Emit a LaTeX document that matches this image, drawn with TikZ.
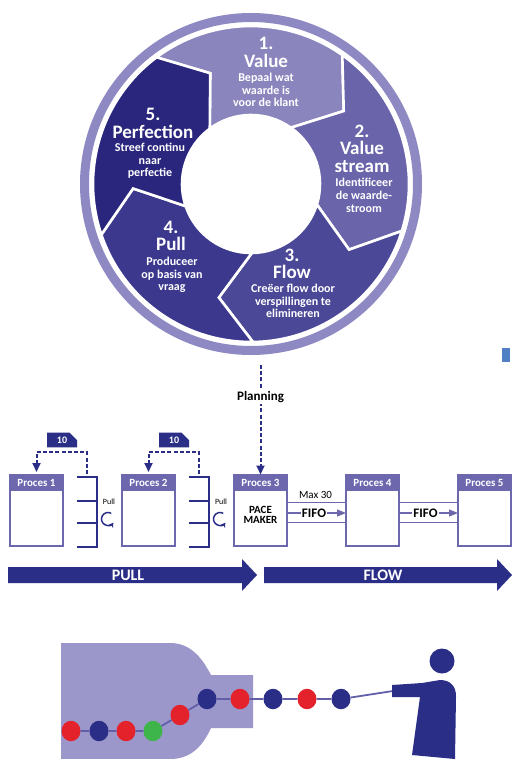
\documentclass[tikz,border=0pt]{standalone}
\usepackage{fontspec}
\setmainfont{Carlito}
\usetikzlibrary{arrows.meta,shapes.misc,shapes.geometric}

\definecolor{ringlav}{HTML}{8F89C3}
\definecolor{segA}{HTML}{8B85BE}
\definecolor{segB}{HTML}{6A65AA}
\definecolor{segC}{HTML}{4B4897}
\definecolor{segD}{HTML}{3B388D}
\definecolor{segE}{HTML}{2A267D}
\definecolor{navy}{HTML}{2B2E87}
\definecolor{lav}{HTML}{6D67AE}
\definecolor{bottle}{HTML}{9C97CB}
\definecolor{beadred}{HTML}{E3222B}
\definecolor{beadgreen}{HTML}{3DB54A}
\definecolor{cord}{HTML}{625EA8}
\definecolor{edgeblue}{HTML}{4F80C4}

% one chevron segment of the lean cycle
% #1 = counter-clockwise boundary angle, #2 = fill colour
\newcommand{\leanseg}[2]{%
  \pgfmathsetmacro{\angS}{-(#1)}%
  \pgfmathsetmacro{\angE}{-(#1)+72}%
  \pgfmathsetmacro{\tipS}{-(#1)+16.5}%
  \pgfmathsetmacro{\tipE}{-(#1)+88.5}%
  \filldraw[fill=#2, draw=white, line width=2.6pt, line join=miter]
    (\angS:158) arc[start angle=\angS, end angle=\angE, radius=158]
    -- (\tipE:118) -- (\angE:69)
    arc[start angle=\angE, end angle=\angS, radius=69]
    -- (\tipS:118) -- cycle;
}

\begin{document}
\begin{tikzpicture}[x=1pt,y=-1pt,
  segtitle/.style={text=white, font=\bfseries\fontsize{19}{17.5}\selectfont, align=center, inner sep=0pt},
  segtext/.style={text=white, font=\bfseries\fontsize{12}{12.7}\selectfont, align=center, inner sep=0pt},
  prochead/.style={fill=lav, draw=lav, line width=1.2pt, text=white,
    font=\bfseries\fontsize{11}{12}\selectfont, minimum width=53pt, minimum height=15pt,
    inner sep=0pt, outer sep=0pt, anchor=north},
  procbody/.style={fill=white, draw=lav, line width=1.2pt, minimum width=53pt,
    minimum height=56pt, inner sep=0pt, outer sep=0pt, anchor=north},
  card/.style={chamfered rectangle, chamfered rectangle corners=north east,
    chamfered rectangle xsep=4pt, chamfered rectangle ysep=4pt, fill=navy, text=white,
    font=\bfseries\fontsize{10}{11}\selectfont, minimum width=30pt, minimum height=14pt, inner sep=0pt},
  dashloop/.style={navy, line width=2pt, dash pattern=on 4pt off 2.2pt,
    -{Triangle[width=8pt,length=9pt]}},
  rack/.style={navy, line width=1.6pt},
  fifoline/.style={lav, line width=1.2pt},
  fifoarrow/.style={lav, line width=1.2pt, -{Triangle[width=7pt,length=9pt]}},
  fifotext/.style={fill=white, inner sep=1pt, font=\bfseries\fontsize{13}{14}\selectfont},
  bigarrow/.style={fill=navy},
  bigtext/.style={text=white, font=\bfseries\fontsize{16}{18}\selectfont},
  bead/.style={ellipse, minimum width=19pt, minimum height=20.5pt, inner sep=0pt},
  loopicon/.style={navy, line width=1.5pt, -{Stealth[length=4.5pt,width=5.5pt]}}
]
\fill[white] (0,0) rectangle (511,759);
\useasboundingbox (0,0) rectangle (511,759);

% ---------- lean cycle ----------
\draw[ringlav, line width=9pt] (251,184) circle[radius=166.5];
\begin{scope}[shift={(251,184)}]
  \leanseg{126.7}{segA}
  \leanseg{54.7}{segB}
  \leanseg{-17.3}{segC}
  \leanseg{-89.3}{segD}
  \leanseg{-161.3}{segE}
\end{scope}

\node[segtitle] (t1) at (266,52.5) {1.\\Value};
\node[segtext]  (d1) at (266,90) {Bepaal wat\\waarde is\\voor de klant};
\node[segtitle] (t2) at (362,148.5) {2.\\Value\\stream};
\node[segtext]  (d2) at (364,195.5) {Identificeer\\de waarde-\\stroom};
\node[segtitle] (t3) at (292,264) {3.\\Flow};
\node[segtext]  (d3) at (293,301) {Creëer flow door\\verspillingen te\\elimineren};
\node[segtitle] (t4) at (171,236) {4.\\Pull};
\node[segtext]  (d4) at (172,275) {Produceer\\op basis van\\vraag};
\node[segtitle] (t5) at (153,123.5) {5.\\Perfection};
\node[segtext]  (d5) at (150,161) {Streef continu\\naar\\perfectie};

\fill[edgeblue] (502,348) rectangle (510,362);

% ---------- process chain ----------
\foreach \i/\x in {1/36.5,2/148.5,3/260.5,4/372.5,5/484.5} {
  \node[procbody] (b\i) at (\x,490) {};
  \node[prochead] (h\i) at (\x,475) {Proces \i};
}
\node[font=\bfseries\fontsize{11}{10}\selectfont, align=center, inner sep=0pt] (pace) at (260.5,514.5) {PACE\\MAKER};

% planning signal
\coordinate (plan) at (260.5,365);
\draw[dashloop, shorten >=0.5pt] (plan) -- (h3.north);
\node[fill=white, inner sep=1.5pt, font=\bfseries\fontsize{13}{14}\selectfont] (planlbl) at (260.5,397) {Planning};

% supermarkets with kanban loops
\foreach \k/\rx in {1/97,2/209} {
  \draw[rack] (\rx-20,477) -- (\rx,477) -- (\rx,547) -- (\rx-20,547);
  \draw[rack] (\rx-20,501) -- (\rx,501);
  \draw[rack] (\rx-20,523) -- (\rx,523);
  \coordinate (rk\k) at (\rx-10,477);
  \node[font=\fontsize{8}{9}\selectfont, inner sep=0pt] (pl\k) at (\rx+12,502) {Pull};
  \coordinate (ic\k) at (\rx+11,519);
  \draw[loopicon] (ic\k) ++(-60:6.5) arc[start angle=-60, end angle=-325, radius=6.5];
  \node[card] (kb\k) at (\rx-35,440) {10};
}
\draw[dashloop, shorten <=3pt, shorten >=3pt] (rk1) -- ++(0,-25) -| (h1.north);
\draw[dashloop, shorten <=3pt, shorten >=3pt] (rk2) -- ++(0,-25) -| (h2.north);

% FIFO lanes
\foreach \a/\b/\fx in {3/4/314,4/5/425.5} {
  \draw[fifoline] ([yshift=15.5pt]b\a.east) -- ([yshift=15.5pt]b\b.west);
  \draw[fifoline] ([yshift=-4.7pt]b\a.east) -- ([yshift=-4.7pt]b\b.west);
  \draw[fifoarrow] ([yshift=5pt]b\a.east) -- ([yshift=5pt]b\b.west);
  \node[fifotext] (fifo\a) at (\fx,513) {FIFO};
}
\node[font=\fontsize{11}{12}\selectfont, inner sep=0pt] (max) at (315.5,495) {Max 30};

% PULL / FLOW arrows
\fill[bigarrow] (8,567) -- (242,567) -- (242,559) -- (257,575) -- (242,591) -- (242,583) -- (8,583) -- cycle;
\node[bigtext] (pulllbl) at (128,575) {PULL};
\fill[bigarrow] (264,567) -- (497,567) -- (497,559) -- (512,575) -- (497,591) -- (497,583) -- (264,583) -- cycle;
\node[bigtext] (flowlbl) at (383,575) {FLOW};

% ---------- pulling the string of beads ----------
\fill[bottle] (61,643) -- (170,643) .. controls (192,643) and (203,660) .. (211,675)
  -- (253,675) -- (253,728) -- (211,728)
  .. controls (203,745) and (192,759) .. (170,759) -- (61,759) -- cycle;

\node[bead, fill=beadred]   (e1)  at (71,731) {};
\node[bead, fill=navy]      (e2)  at (99,731) {};
\node[bead, fill=beadred]   (e3)  at (126,731) {};
\node[bead, fill=beadgreen] (e4)  at (153,731) {};
\node[bead, fill=beadred]   (e5)  at (180,715) {};
\node[bead, fill=navy]      (e6)  at (207,699) {};
\node[bead, fill=beadred]   (e7)  at (240,699) {};
\node[bead, fill=navy]      (e8)  at (273,699) {};
\node[bead, fill=beadred]   (e9)  at (307,699) {};
\node[bead, fill=navy]      (e10) at (341,699) {};
\coordinate (hand) at (393,691);
\draw[cord, line width=1.8pt] (e1) -- (e2) -- (e3) -- (e4) -- (e5) -- (e6) -- (e7) -- (e8) -- (e9) -- (e10) -- (hand);

% the customer
\node[circle, fill=navy, minimum size=25pt, inner sep=0pt] (head) at (442,661) {};
\fill[navy] (392,685) -- (422,683) -- (440,680) .. controls (450,680) and (456,686) .. (456,696)
  -- (455,759) -- (412,755) -- (420,697) -- (392,697) -- cycle;
\end{tikzpicture}
\end{document}
